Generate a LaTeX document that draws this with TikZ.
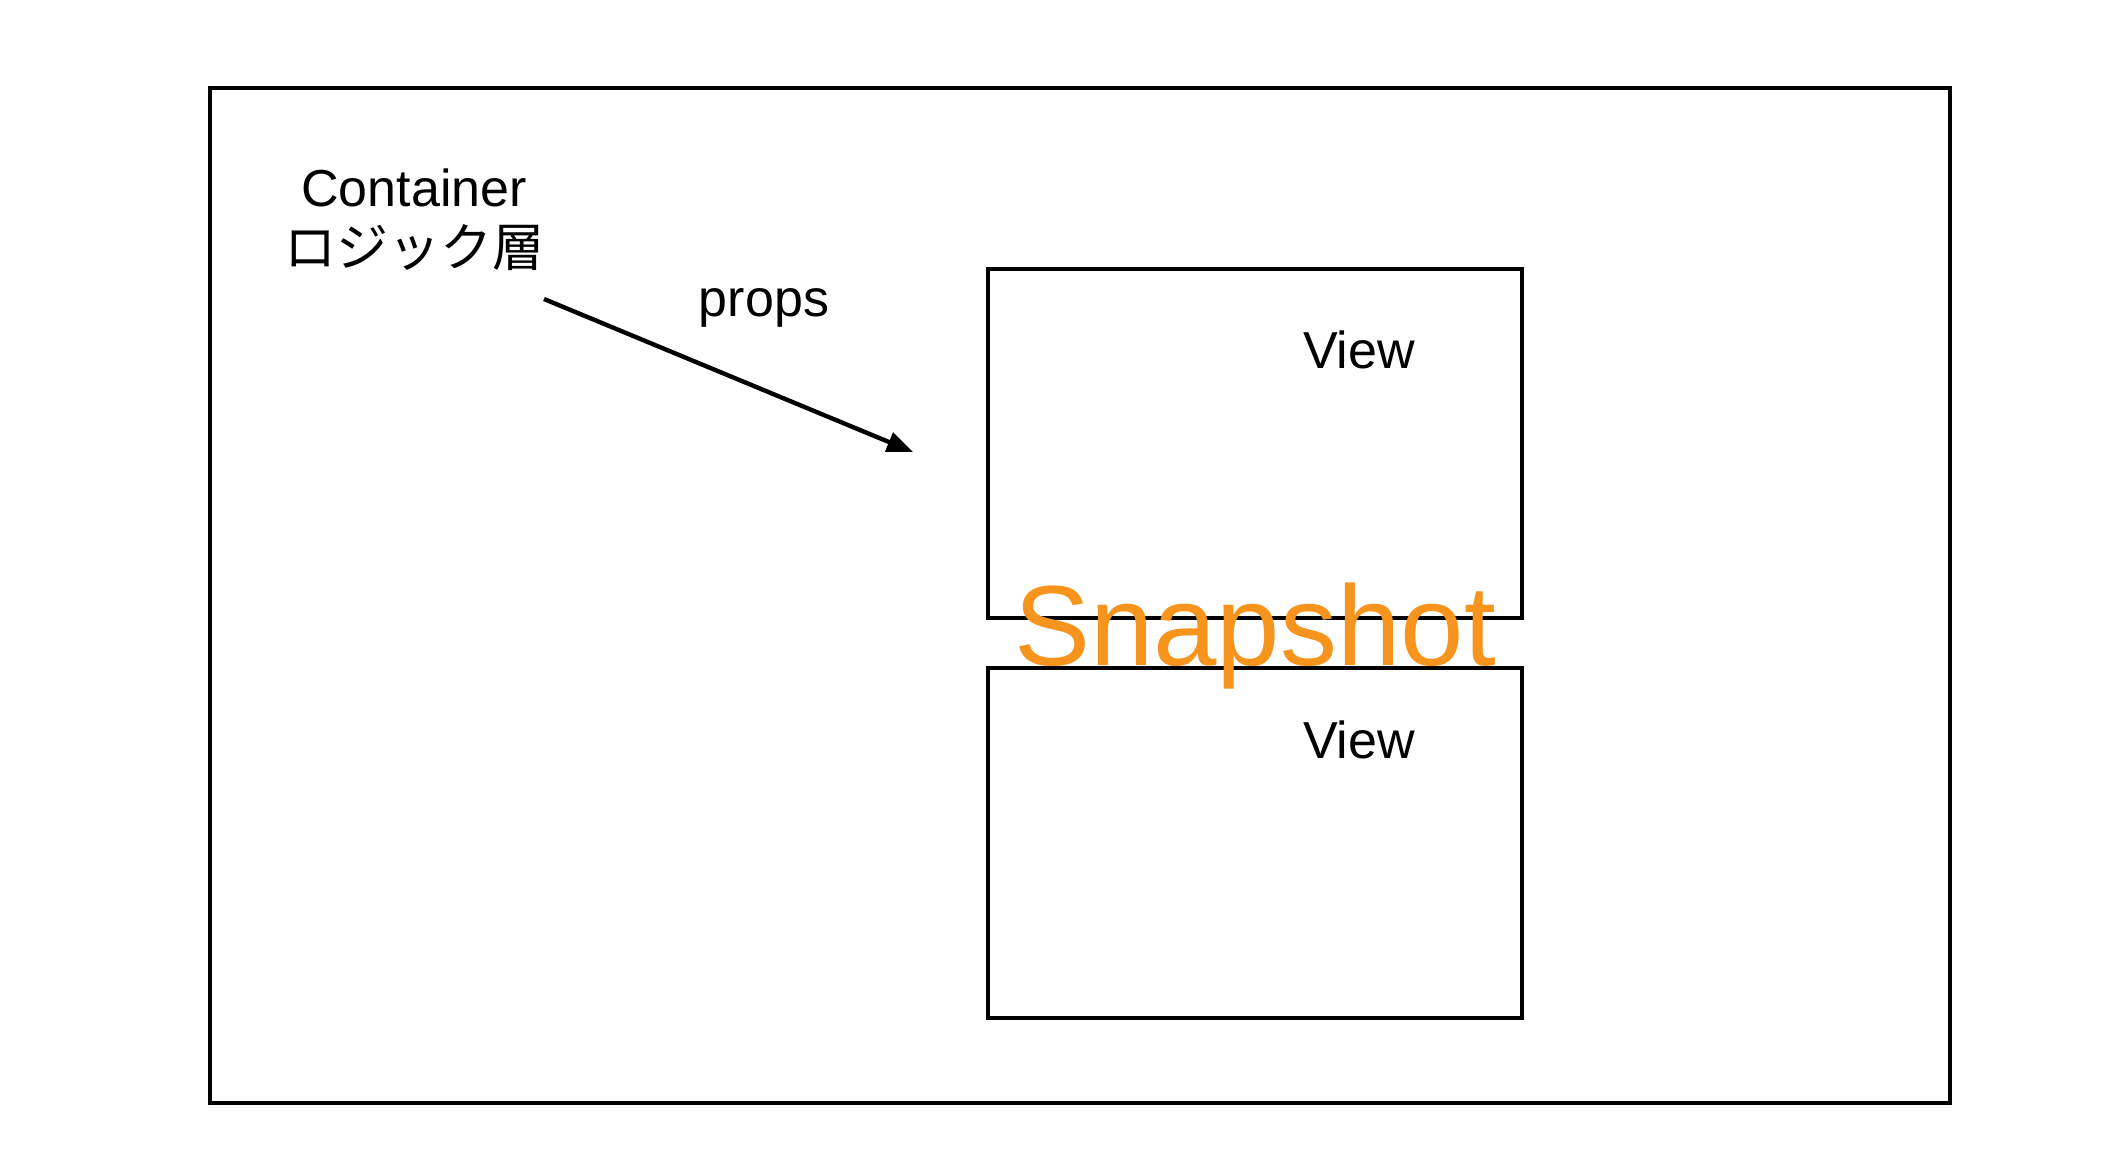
\documentclass[tikz,border=0pt]{standalone}
\usepackage{fontspec}
\setmainfont{Liberation Sans}
\newfontfamily\jpfont{Noto Sans CJK JP}
\usetikzlibrary{arrows.meta}
\definecolor{snaporange}{HTML}{F7941E}
\begin{document}
\begin{tikzpicture}[x=0.5pt,y=-0.5pt,
  box/.style={draw=black,line width=2.4pt,inner sep=0pt},
  lbl/.style={font=\fontsize{26pt}{30pt}\selectfont,inner sep=0pt,align=center},
  conn/.style={line width=2.2pt,-{Triangle[length=13pt,width=10pt]}}]
\useasboundingbox[fill=white] (0,0) rectangle (2122,1172);
\node[box,minimum width=870pt,minimum height=507.5pt] (outer) at (1080,595.5) {};
\node[box,minimum width=267pt,minimum height=174.5pt] (viewtop) at (1255,443.5) {};
\node[box,minimum width=267pt,minimum height=175pt] (viewbot) at (1255,843) {};
\node[lbl] (container) at (414,220) {Container\\{\jpfont ロジック層}};
\node[lbl] (props) at (764,308) {props};
\node[lbl] (v1) at (1359,350) {View};
\node[lbl] (v2) at (1359,740) {View};
\node[inner sep=0pt,text=snaporange,font=\fontsize{57pt}{60pt}\selectfont] (snap) at (1255,636) {Snapshot};
\coordinate (s) at (544,299);
\coordinate (e) at (913,452);
\draw[conn] (s) -- (e);
\end{tikzpicture}
\end{document}
